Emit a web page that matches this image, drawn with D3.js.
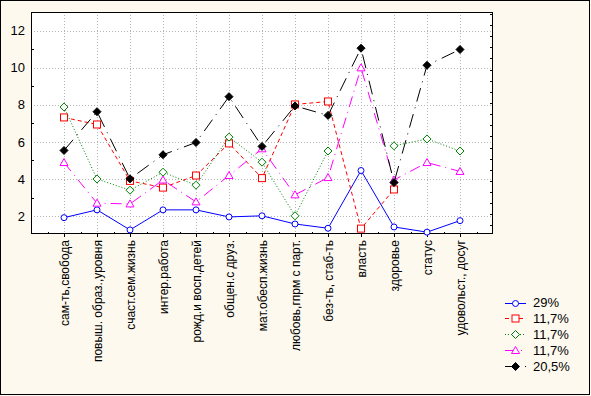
<!DOCTYPE html>
<head>
	<meta charset="utf-8">
	<title>Chart</title>
	<script src="https://cdn.jsdelivr.net/npm/d3@7"></script>
	<style>
		body { margin: 0; background: #fdf9ee; }
		text { font-family: "Liberation Sans", Arial, sans-serif; fill: #000; }
		.grid line { stroke: #b4b4b4; stroke-dasharray: 1,2; }
	</style>
</head>
<body>
	<div id="chart"></div>
	<script>
		var categories = ["сам-ть,свобода", "повыш. образ.,уровня", "счаст.сем.жизнь", "интер.работа",
			"рожд.и восп.детей", "общен.с друз.", "мат.обесп.жизнь", "любовь,гпрм с парт.",
			"без-ть, стаб-ть", "власть", "здоровье", "статус", "удовольст., досуг"];

		var seriesNames = ["29%", "11,7%", "11,7%", "11,7%", "20,5%"];

		var blue    = [1.92, 2.34, 1.26, 2.34, 2.34, 1.96, 2.02, 1.58, 1.35, 4.46, 1.42, 1.14, 1.76];
		var red     = [7.32, 6.94, 3.90, 3.54, 4.19, 5.92, 4.05, 8.02, 8.18, 1.33, 3.44, null, null];
		var green   = [7.88, 4.00, 3.40, 4.37, 3.67, 6.26, 4.91, 2.02, 5.51, null, 5.79, 6.16, 5.51];
		var magenta = [4.89, 2.70, 2.66, 3.95, 2.77, 4.19, 5.63, 3.15, 4.08, 9.99, 3.95, 4.89, 4.41];
		var black   = [5.54, 7.63, 4.01, 5.31, 5.97, 8.44, 5.76, 7.94, 7.43, 11.05, 3.81, 10.13, 10.98];

		var yTicks = [2, 4, 6, 8, 10, 12];

		var width = 591, height = 396;
		var pLeft = 31, pTop = 12, pRight = 493, pBottom = 234;

		var svg = d3.select("#chart").append("svg")
			.attr("width", width)
			.attr("height", height);

		svg.append("rect")
			.attr("x", 0.5).attr("y", 0.5)
			.attr("width", 589).attr("height", 394)
			.attr("fill", "#fdf9ee")
			.attr("stroke", "#000");

		var x = d3.scalePoint().domain(categories).range([pLeft, pRight]).padding(1);
		var y = d3.scaleLinear().domain([1.04, 13]).range([pBottom, pTop]);

		svg.append("rect")
			.attr("x", pLeft).attr("y", pTop)
			.attr("width", pRight - pLeft).attr("height", pBottom - pTop)
			.attr("fill", "#fff");

		// grid
		var grid = svg.append("g").attr("class", "grid");
		grid.selectAll(".gy").data(yTicks).enter().append("line")
			.attr("x1", pLeft).attr("x2", pRight)
			.attr("y1", function(d) { return Math.round(y(d)) + 0.5; })
			.attr("y2", function(d) { return Math.round(y(d)) + 0.5; });
		grid.selectAll(".gx").data(categories).enter().append("line")
			.attr("y1", pTop).attr("y2", pBottom)
			.attr("x1", function(d) { return Math.round(x(d)) + 0.5; })
			.attr("x2", function(d) { return Math.round(x(d)) + 0.5; });

		// axes
		var yAxis = d3.axisLeft(y).tickValues(yTicks).tickSize(0).tickPadding(6);
		svg.append("g")
			.attr("transform", "translate(" + pLeft + ",0)")
			.call(yAxis)
			.call(function(g) {
				g.select(".domain").remove();
				g.selectAll("text").style("font-size", "13px");
			});

		var minorY = [3, 5, 7, 9, 11];
		svg.append("g").selectAll("line").data(minorY).enter().append("line")
			.attr("x1", pLeft).attr("x2", pLeft + 3)
			.attr("y1", function(d) { return Math.round(y(d)) + 0.5; })
			.attr("y2", function(d) { return Math.round(y(d)) + 0.5; })
			.attr("stroke", "#000");

		var xAxis = d3.axisBottom(x).tickSize(3).tickPadding(4);
		var gx = svg.append("g")
			.attr("transform", "translate(0," + pBottom + ")")
			.call(xAxis);
		gx.select(".domain").remove();
		gx.selectAll("text")
			.style("font-size", "12px")
			.attr("text-anchor", "end")
			.attr("transform", "rotate(-90)")
			.attr("x", -6)
			.attr("y", 0)
			.attr("dy", "0.35em");

		// minor ticks between categories on bottom axis
		var step = x.step();
		svg.append("g").selectAll("line").data(d3.range(categories.length + 1)).enter().append("line")
			.attr("x1", function(i) { return Math.round(x(categories[0]) - step / 2 + i * step) + 0.5; })
			.attr("x2", function(i) { return Math.round(x(categories[0]) - step / 2 + i * step) + 0.5; })
			.attr("y1", pBottom - 2).attr("y2", pBottom)
			.attr("stroke", "#000");

		// right side ticks
		svg.append("g").selectAll("line").data(d3.range(1.5, 13, 0.6)).enter().append("line")
			.attr("x1", pRight - 3).attr("x2", pRight)
			.attr("y1", function(d) { return Math.round(y(d)) + 0.5; })
			.attr("y2", function(d) { return Math.round(y(d)) + 0.5; })
			.attr("stroke", "#000");

		svg.append("rect")
			.attr("x", pLeft + 0.5).attr("y", pTop + 0.5)
			.attr("width", pRight - pLeft - 1).attr("height", pBottom - pTop - 1)
			.attr("fill", "none")
			.attr("stroke", "#000");

		var series = [
			{ name: seriesNames[0], values: blue,    color: "#0000ff", dash: null,          marker: "circle" },
			{ name: seriesNames[1], values: red,     color: "#ff0000", dash: "4,3",         marker: "square" },
			{ name: seriesNames[2], values: green,   color: "#008000", dash: "1,2",         marker: "diamond" },
			{ name: seriesNames[3], values: magenta, color: "#ff00ff", dash: "11,5,1,5",    marker: "triangle" },
			{ name: seriesNames[4], values: black,   color: "#000000", dash: "14,6,1,6",    marker: "diamondFilled" }
		];

		var line = d3.line()
			.defined(function(d) { return d != null; })
			.x(function(d, i) { return x(categories[i]); })
			.y(function(d) { return y(d); });

		function drawMarker(g, type, color, cx, cy) {
			if (type === "circle") {
				g.append("circle").attr("cx", cx).attr("cy", cy).attr("r", 3)
					.attr("fill", "#fff").attr("stroke", color);
			} else if (type === "square") {
				g.append("rect").attr("x", cx - 3.5).attr("y", cy - 3.5)
					.attr("width", 7).attr("height", 7)
					.attr("fill", "#fff").attr("stroke", color);
			} else if (type === "diamond" || type === "diamondFilled") {
				g.append("path")
					.attr("d", "M" + cx + "," + (cy - 4) + "L" + (cx + 4) + "," + cy + "L" + cx + "," + (cy + 4) + "L" + (cx - 4) + "," + cy + "Z")
					.attr("fill", type === "diamond" ? "#fff" : color)
					.attr("stroke", color);
			} else if (type === "triangle") {
				g.append("path")
					.attr("d", "M" + cx + "," + (cy - 4) + "L" + (cx + 4) + "," + (cy + 3) + "L" + (cx - 4) + "," + (cy + 3) + "Z")
					.attr("fill", "#fff")
					.attr("stroke", color);
			}
		}

		series.forEach(function(s) {
			var g = svg.append("g");
			g.append("path")
				.datum(s.values)
				.attr("d", line)
				.attr("fill", "none")
				.attr("stroke", s.color)
				.attr("stroke-width", 1)
				.attr("stroke-dasharray", s.dash);
			s.values.forEach(function(v, i) {
				if (v == null) return;
				drawMarker(g, s.marker, s.color, x(categories[i]), y(v));
			});
		});

		// legend
		var legend = svg.append("g");
		series.forEach(function(s, i) {
			var ly = 302.5 + i * 15.8;
			legend.append("line")
				.attr("x1", 505).attr("x2", 526)
				.attr("y1", Math.round(ly) + 0.5).attr("y2", Math.round(ly) + 0.5)
				.attr("stroke", s.color)
				.attr("stroke-dasharray", s.dash);
			drawMarker(legend, s.marker, s.color, 515.5, Math.round(ly) + 0.5);
			legend.append("text")
				.attr("x", 533).attr("y", ly)
				.attr("dy", "0.38em")
				.style("font-size", "13px")
				.text(s.name);
		});
	</script>
</body>
